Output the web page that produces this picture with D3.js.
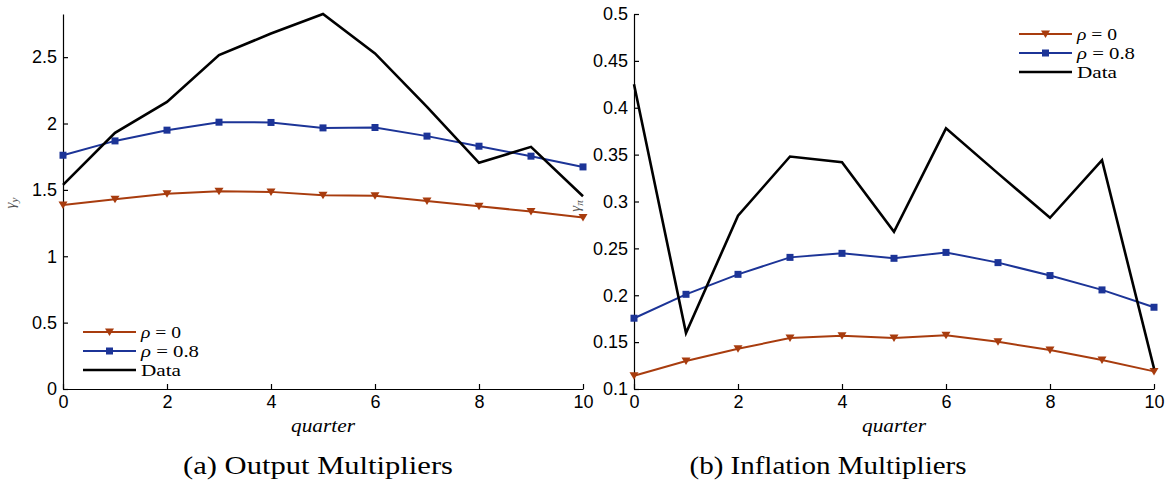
<!DOCTYPE html>
<html><head><meta charset="utf-8">
<script src="https://cdn.jsdelivr.net/npm/d3@7"></script>
<style>body{margin:0;background:#fff}svg{display:block}</style>
</head><body>
<script>
const quarters = [0,1,2,3,4,5,6,7,8,9,10];
const xTicks = [0,2,4,6,8,10];
// Panel (a) Output multipliers
const outRho0  = [1.387,1.430,1.470,1.490,1.485,1.460,1.455,1.417,1.377,1.337,1.292];
const outRho08 = [1.761,1.869,1.950,2.010,2.008,1.967,1.970,1.905,1.829,1.754,1.673];
const outData  = [1.538,1.930,2.163,2.515,2.678,2.825,2.528,2.126,1.704,1.824,1.452];
const outYTicks = [0,0.5,1,1.5,2,2.5];
const outYLabels = ["0","0.5","1","1.5","2","2.5"];
// Panel (b) Inflation multipliers
const infRho0  = [0.1142,0.1298,0.1429,0.1543,0.1567,0.1543,0.1574,0.1504,0.1415,0.1309,0.1188];
const infRho08 = [0.1755,0.2010,0.2223,0.2404,0.2447,0.2394,0.2457,0.2348,0.2210,0.2057,0.1872];
const infData  = [0.425,0.1596,0.2848,0.348,0.342,0.2677,0.378,0.330,0.2826,0.344,0.122];
const infYTicks = [0.1,0.15,0.2,0.25,0.3,0.35,0.4,0.45,0.5];
const infYLabels = ["0.1","0.15","0.2","0.25","0.3","0.35","0.4","0.45","0.5"];
const legendNames = ["ρ = 0","ρ = 0.8","Data"];

const C_BROWN = "#a83c0e", C_BLUE = "#1c3497", C_BLACK = "#000";

const svg = d3.select("body").append("svg").attr("width",1171).attr("height",484);
svg.append("rect").attr("width",1171).attr("height",484).attr("fill","#fff");

function panel(opt){
  const x = d3.scaleLinear().domain([0,10]).range([opt.x0, opt.x0+520]);
  const y = d3.scaleLinear().domain(opt.yDomain).range([389,14]);
  const g = svg.append("g");
  const ax = g.append("g").attr("transform","translate(0,389)")
    .call(d3.axisBottom(x).tickValues(xTicks).tickFormat(d3.format("d")).tickSizeInner(-5).tickSizeOuter(0).tickPadding(6));
  const ay = g.append("g").attr("transform",`translate(${opt.x0},0)`)
    .call(d3.axisLeft(y).tickValues(opt.yTicks).tickFormat((d,i)=>opt.yLabels[i]).tickSizeInner(-5).tickSizeOuter(0).tickPadding(6));
  [ax,ay].forEach(a=>{
    a.selectAll("text").attr("font-family","Liberation Sans, Arial, sans-serif").attr("font-size",18).attr("fill","#000");
    a.selectAll("line,path").attr("stroke","#000").attr("stroke-width",1.2);
  });
  ax.selectAll("text").attr("dy","0.78em").attr("y",5);
  const line = d3.line().x((d,i)=>x(quarters[i])).y(d=>y(d));
  const tri = "M-4.5,-3.5L4.5,-3.5L0,4Z";
  // rho = 0
  g.append("path").attr("d",line(opt.r0)).attr("fill","none").attr("stroke",C_BROWN).attr("stroke-width",2);
  g.selectAll(".tri").data(opt.r0).enter().append("path").attr("d",tri)
    .attr("transform",(d,i)=>`translate(${x(quarters[i])},${y(d)})`).attr("fill",C_BROWN);
  g.append("path").attr("d",line(opt.r8)).attr("fill","none").attr("stroke",C_BLUE).attr("stroke-width",2);
  g.selectAll(".sq").data(opt.r8).enter().append("rect")
    .attr("x",(d,i)=>x(quarters[i])-3.5).attr("y",d=>y(d)-3.5).attr("width",7).attr("height",7).attr("fill",C_BLUE);
  g.append("path").attr("d",line(opt.data)).attr("fill","none").attr("stroke",C_BLACK).attr("stroke-width",2.6);

  // x label
  g.append("text").attr("x",opt.x0+260).attr("y",432).attr("text-anchor","middle")
    .attr("font-family","Liberation Serif, serif").attr("font-style","italic").attr("font-size",19)
    .attr("textLength",64).attr("lengthAdjust","spacingAndGlyphs").text("quarter");
  // y label
  const yl = g.append("text").attr("transform",`translate(${opt.ylx},${opt.yly}) rotate(-90)`)
    .attr("text-anchor","middle").attr("font-family","Liberation Serif, serif").attr("font-size",15).attr("fill","#555");
  yl.append("tspan").attr("font-style","italic").text("γ");
  yl.append("tspan").attr("font-style","italic").attr("font-size",11).attr("dy",3).text(opt.ysub);
  // caption
  g.append("text").attr("x",opt.capx).attr("y",474).attr("text-anchor","middle")
    .attr("font-family","Liberation Serif, serif").attr("font-size",25)
    .attr("textLength",opt.capw).attr("lengthAdjust","spacingAndGlyphs").text(opt.caption);
  // legend
  const lg = g.append("g");
  const colors = [C_BROWN,C_BLUE,C_BLACK];
  const legW = [40,58,40];
  legendNames.forEach((nm,i)=>{
    const yy = opt.legY + i*19;
    lg.append("line").attr("x1",opt.legX).attr("x2",opt.legX+53).attr("y1",yy).attr("y2",yy)
      .attr("stroke",colors[i]).attr("stroke-width",i===2?2.6:2);
    const cx = opt.legX+26.5;
    if(i===0) lg.append("path").attr("d",tri).attr("transform",`translate(${cx},${yy})`).attr("fill",C_BROWN);
    if(i===1) lg.append("rect").attr("x",cx-3.5).attr("y",yy-3.5).attr("width",7).attr("height",7).attr("fill",C_BLUE);
    const t = lg.append("text").attr("x",opt.legX+58).attr("y",yy+5.5).attr("font-family","Liberation Serif, serif").attr("font-size",16)
      .attr("textLength",legW[i]).attr("lengthAdjust","spacingAndGlyphs");
    if(i<2){
      t.append("tspan").attr("font-style","italic").text("ρ");
      t.append("tspan").text(nm.slice(1));
    } else t.text(nm);
  });
}

panel({x0:63, yDomain:[0,2.825], yTicks:outYTicks, yLabels:outYLabels, r0:outRho0, r8:outRho08, data:outData,
  ylx:15, yly:203, ysub:"y", caption:"(a) Output Multipliers", capx:318, capw:270, legX:83, legY:332});
panel({x0:634, yDomain:[0.1,0.5], yTicks:infYTicks, yLabels:infYLabels, r0:infRho0, r8:infRho08, data:infData,
  ylx:580, yly:206, ysub:"π", caption:"(b) Inflation Multipliers", capx:828, capw:277, legX:1019, legY:34});
</script>
</body></html>
